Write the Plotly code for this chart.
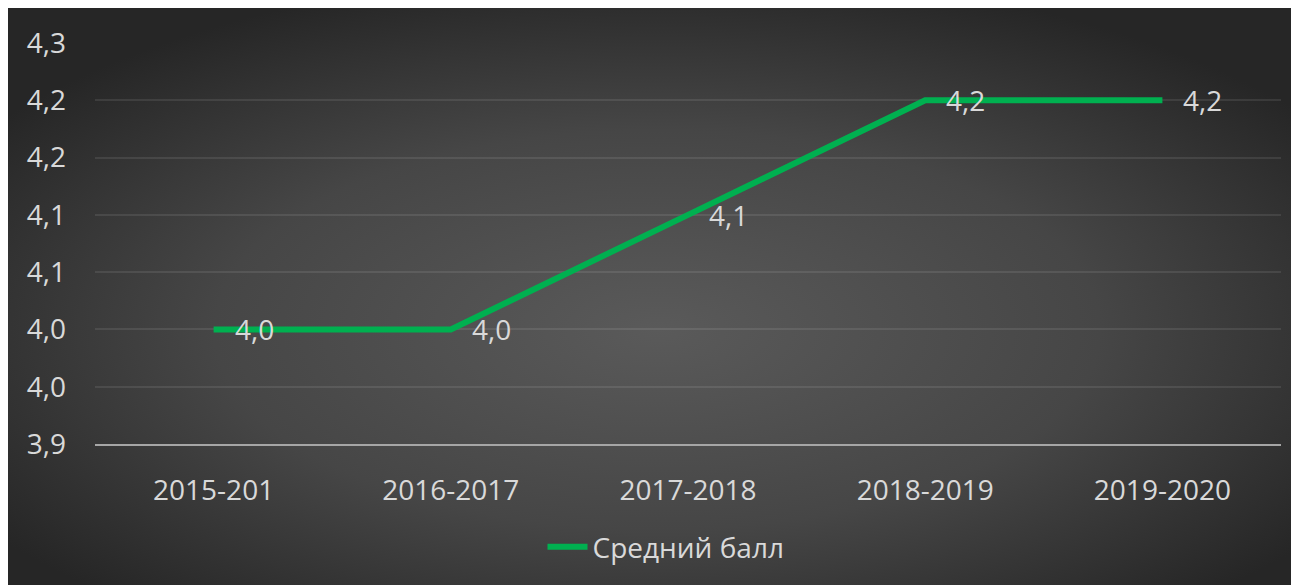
import base64
import plotly.graph_objects as go

categories = ["2015-201", "2016-2017", "2017-2018", "2018-2019", "2019-2020"]
values = [4.00, 4.00, 4.10, 4.20, 4.20]
series_name = "Средний балл"
y_tickvals = [3.90, 3.95, 4.00, 4.05, 4.10, 4.15, 4.20, 4.25]
y_ticktext = ["3,9", "4,0", "4,0", "4,1", "4,1", "4,2", "4,2", "4,3"]
value_labels = [f"{v:.1f}".replace(".", ",") for v in values]

W, H = 1299, 585
OFF = 8                  # page body margin
L, R = 95 - OFF, 1281 - OFF   # plot area left/right (figure px)
T, B = 43 - OFF, 444 - OFF    # plot area top/bottom (figure px)
pw, ph = R - L, B - T

FONT = "Open Sans"
FS = 28
TXT = "#D9D9D9"
GREEN = "#00B050"

svg = f"""<svg xmlns='http://www.w3.org/2000/svg' width='{W}' height='{H}' viewBox='0 0 {W} {H}' preserveAspectRatio='none'>
<defs><radialGradient id='g' cx='0.5' cy='0.55' r='0.62'>
<stop offset='0' stop-color='#5a5a5a'/>
<stop offset='0.55' stop-color='#464646'/>
<stop offset='1' stop-color='#262626'/>
</radialGradient></defs>
<rect width='{W}' height='{H}' fill='url(#g)'/></svg>"""
bg_uri = "data:image/svg+xml;base64," + base64.b64encode(svg.encode()).decode()

fig = go.Figure()
fig.add_trace(go.Scatter(
    x=categories, y=values, mode="lines", name=series_name,
    line=dict(color=GREEN, width=6),
))

for c, v, t in zip(categories, values, value_labels):
    fig.add_annotation(x=c, y=v, text=t, showarrow=False, xanchor="left",
                       yanchor="middle", xshift=19,
                       font=dict(family=FONT, size=FS, color=TXT))

fig.add_layout_image(dict(
    source=bg_uri, xref="paper", yref="paper",
    x=-L / pw, y=1 + T / ph,
    sizex=W / pw, sizey=H / ph,
    xanchor="left", yanchor="top", sizing="stretch", layer="below",
))

fig.update_layout(
    width=W, height=H,
    margin=dict(l=L, r=W - R, t=T, b=H - B, pad=0),
    paper_bgcolor="#262626", plot_bgcolor="rgba(0,0,0,0)",
    font=dict(family=FONT, size=FS, color=TXT),
    showlegend=True,
    legend=dict(orientation="h", x=(658 - L) / pw, xanchor="center",
                y=(B - 539) / ph, yanchor="middle",
                font=dict(family=FONT, size=FS, color=TXT),
                bgcolor="rgba(0,0,0,0)", itemwidth=40),
    xaxis=dict(type="category", range=[-0.5, 4.5], showgrid=False,
               showline=True, linecolor="#A6A6A6", linewidth=2,
               ticks="", ticklabelstandoff=20,
               tickfont=dict(family=FONT, size=FS, color=TXT),
               fixedrange=True, zeroline=False),
    yaxis=dict(range=[3.9, 4.25], tickvals=y_tickvals, ticktext=y_ticktext,
               showgrid=True, gridcolor="rgba(255,255,255,0.09)", gridwidth=1.5,
               zeroline=False, showline=False, ticks="",
               ticklabelstandoff=28,
               tickfont=dict(family=FONT, size=FS, color=TXT)),
)

fig.write_html("out.html")
